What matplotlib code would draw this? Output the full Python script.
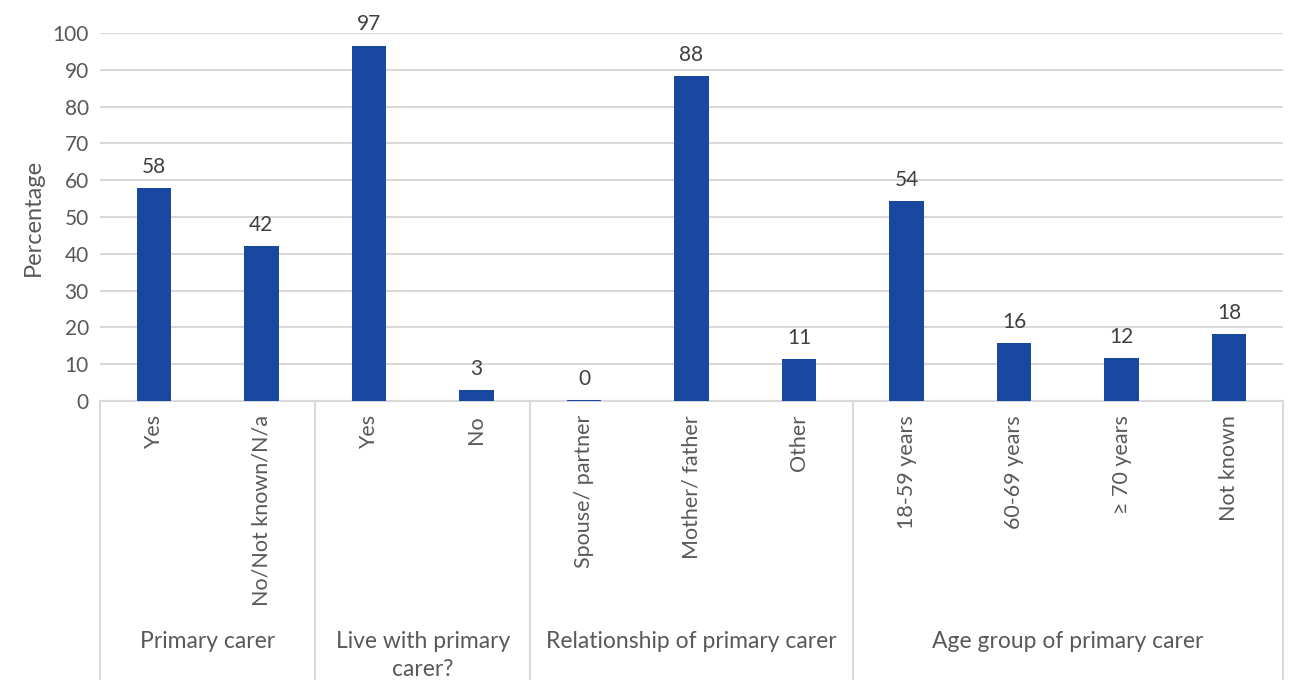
import matplotlib.pyplot as plt
import matplotlib.transforms as mtransforms

# categories and percentages
labels = ["Yes", "No/Not known/N/a", "Yes", "No", "Spouse/ partner", "Mother/ father",
          "Other", "18-59 years", "60-69 years", "\u2265 70 years", "Not known"]
values = [57.8, 42.2, 96.6, 3.0, 0.2, 88.4, 11.4, 54.4, 15.8, 11.6, 18.3]
groups = ["Primary carer", "Live with primary\ncarer?", "Relationship of primary carer",
          "Age group of primary carer"]
group_sizes = [2, 2, 3, 4]

plt.rcParams['font.family'] = ['Lato', 'DejaVu Sans']

fig = plt.figure(figsize=(12.89, 6.8), dpi=100)
ax = fig.add_axes([100/1289, 1-401/680, 1183/1289, 368/680])

x = list(range(len(values)))
bars = ax.bar(x, values, width=0.32, color='#1a47a0', zorder=3)
for xi, v in zip(x, values):
    ax.annotate("%.0f" % v, (xi, v), xytext=(0, 8), textcoords='offset points',
                ha='center', va='bottom', fontsize=15, color='#404040')

ax.set_ylim(0, 100)
ax.set_xlim(-0.5, len(values) - 0.5)
ax.set_yticks(range(0, 101, 10))
ax.yaxis.grid(True, color='#d9d9d9', lw=1.5, zorder=0)
ax.tick_params(axis='y', length=0, labelsize=15, labelcolor='#595959', pad=8)
ax.set_xticks(x)
ax.set_xticklabels(labels, rotation=90, va='top', ha='center')
ax.tick_params(axis='x', length=0, labelsize=15.5, labelcolor='#595959', pad=10)
ax.set_ylabel("Percentage", fontsize=17, color='#595959', labelpad=6)

for s in ['top', 'right', 'left']:
    ax.spines[s].set_visible(False)
ax.spines['bottom'].set_color('#d9d9d9')
ax.spines['bottom'].set_linewidth(1.5)

# group separators and group names below the tick labels
trans = mtransforms.blended_transform_factory(ax.transData, ax.transAxes)
bottom = -(680 - 401) / 368
start = -0.5
for name, n in zip(groups, group_sizes):
    end = start + n
    ax.plot([start, start], [0, bottom], transform=trans, color='#d9d9d9', lw=1.5, clip_on=False)
    ax.text((start + end) / 2, -0.625, name, transform=trans, ha='center', va='top',
            fontsize=16.5, color='#595959', linespacing=1.4)
    start = end
ax.plot([start, start], [0, bottom], transform=trans, color='#d9d9d9', lw=1.5, clip_on=False)

fig.savefig("out.png", dpi=100)
